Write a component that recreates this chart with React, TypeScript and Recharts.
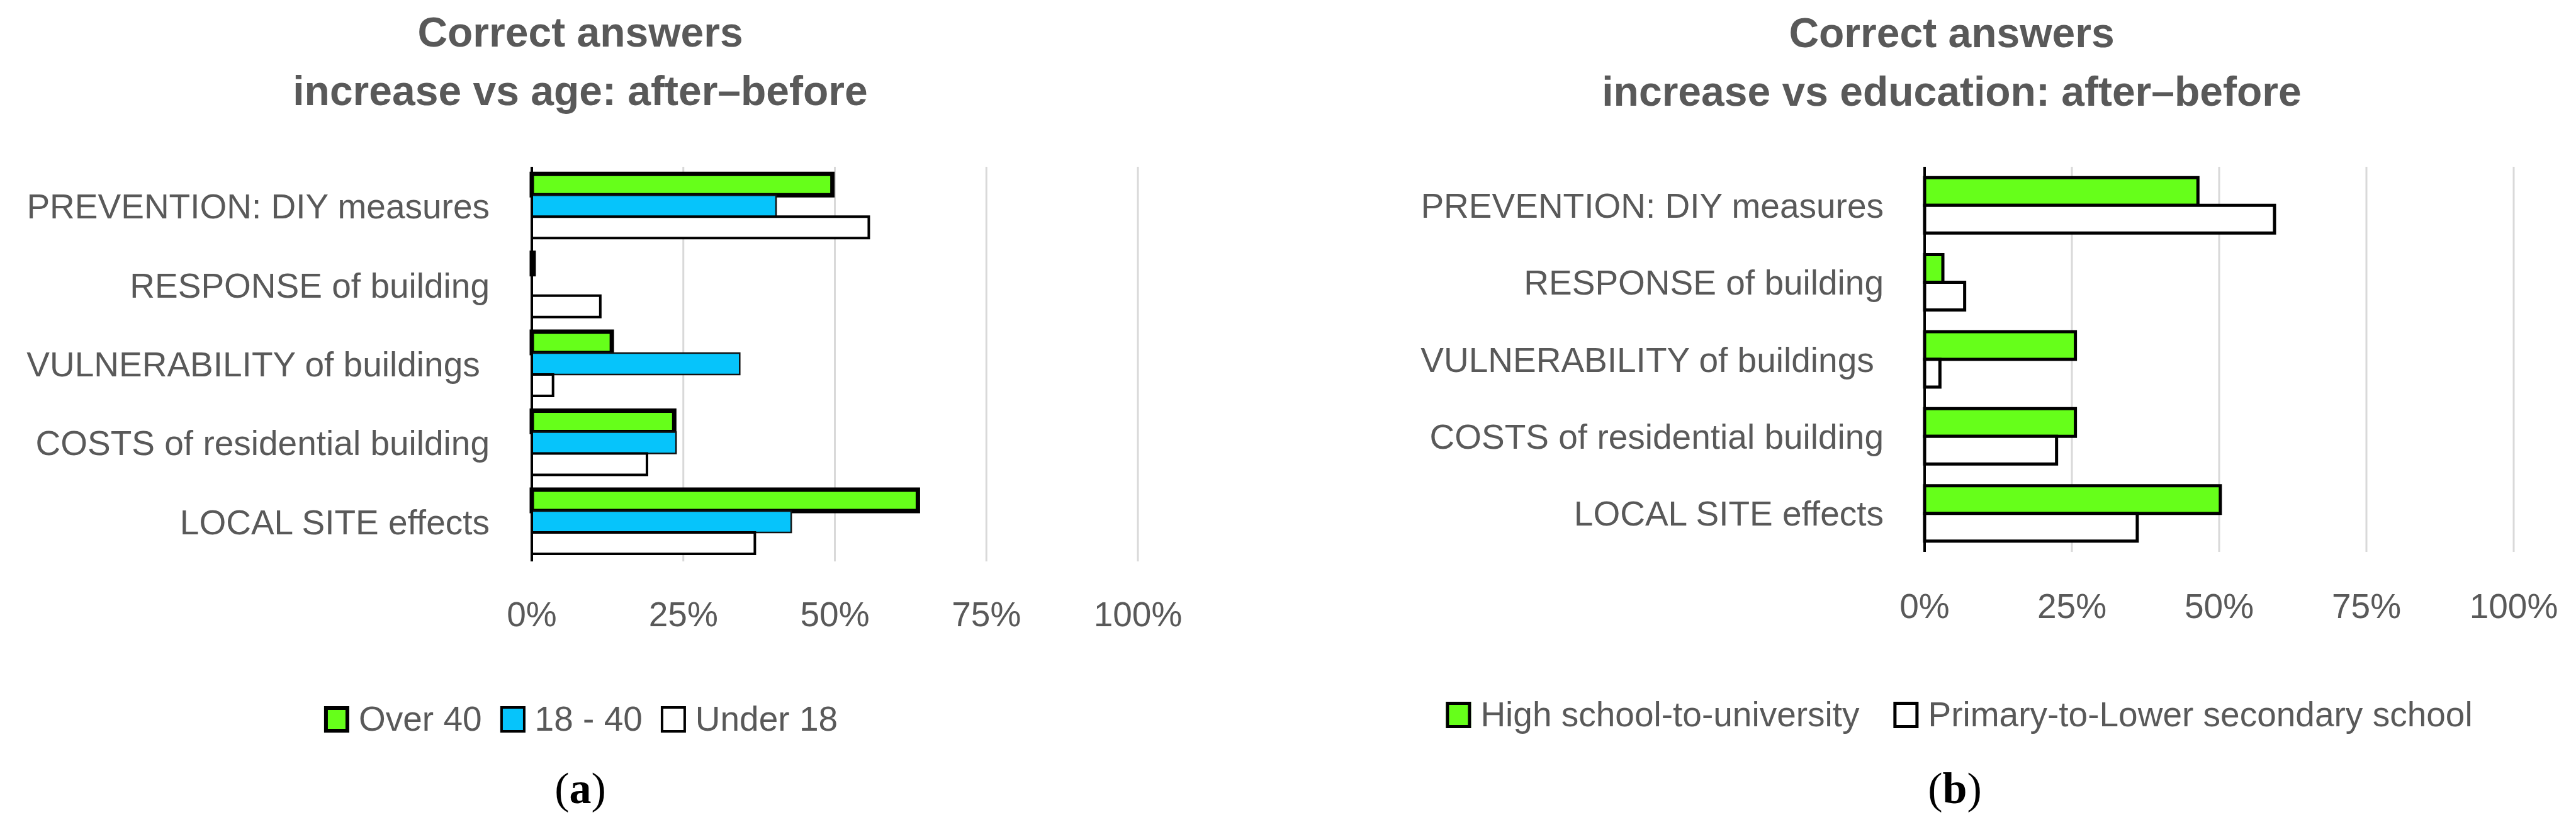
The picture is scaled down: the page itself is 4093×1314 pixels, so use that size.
import { BarChart, Bar, XAxis, YAxis, CartesianGrid } from 'recharts';

const categories = [
  'PREVENTION: DIY measures',
  'RESPONSE of building',
  'VULNERABILITY of buildings\u00A0',
  'COSTS of residential building',
  'LOCAL SITE effects',
];

// panel (a): increase by age group, percent
const over40 = [49.6, 0.3, 13.2, 23.5, 63.7];
const age18to40 = [40.3, 0, 34.3, 23.8, 42.8];
const under18 = [55.6, 11.3, 3.5, 19.0, 36.8];

// panel (b): increase by education, percent
const highSchoolUni = [46.4, 3.1, 25.6, 25.6, 50.2];
const primaryLowerSec = [59.4, 6.8, 2.6, 22.4, 36.1];

const percentTicks = [0, 25, 50, 75, 100];

const FONT = '"Liberation Sans", Arial, sans-serif';
const TEXT = '#595959';
const GREEN = '#66ff1a';
const BLUE = '#06c4fb';

interface Series {
  key: string;
  name: string;
  values: number[];
  fill: string;
  stroke: string;
  strokeWidth: number;
  keyBorder: number;
}

const ageSeries: Series[] = [
  { key: 'over40', name: 'Over 40', values: over40, fill: GREEN, stroke: '#000', strokeWidth: 7, keyBorder: 6 },
  { key: 'age18to40', name: '18 - 40', values: age18to40, fill: BLUE, stroke: '#111', strokeWidth: 2.5, keyBorder: 4 },
  { key: 'under18', name: 'Under 18', values: under18, fill: '#fff', stroke: '#000', strokeWidth: 4, keyBorder: 4 },
];

const eduSeries: Series[] = [
  { key: 'highSchool', name: 'High school-to-university', values: highSchoolUni, fill: GREEN, stroke: '#000', strokeWidth: 5, keyBorder: 5 },
  { key: 'primary', name: 'Primary-to-Lower secondary school', values: primaryLowerSec, fill: '#fff', stroke: '#000', strokeWidth: 5, keyBorder: 5 },
];

const tickStyle = { fontSize: 55, fill: TEXT, fontFamily: FONT };

interface PanelProps {
  series: Series[];
  left: number;
  width: number;
  yAxisWidth: number;
  rightMargin: number;
  plotBottom: number;
  categoryGap: string;
  labelGap: number;
  tickGap: number;
}

function Panel({ series, left, width, yAxisWidth, rightMargin, plotBottom, categoryGap, labelGap, tickGap }: PanelProps) {
  const data = categories.map((category, i) => {
    const row: Record<string, string | number> = { category };
    series.forEach(s => { row[s.key] = s.values[i]; });
    return row;
  });

  return (
    <div style={{ position: 'absolute', left, top: 0 }}>
      <BarChart
        width={width}
        height={1314}
        data={data}
        layout="vertical"
        barCategoryGap={categoryGap}
        barGap={0}
        margin={{ top: 265, right: rightMargin, bottom: 1314 - plotBottom - 100, left: 0 }}
      >
        <CartesianGrid horizontal={false} stroke="#d9d9d9" strokeWidth={3} />
        <XAxis
          type="number"
          domain={[0, 100]}
          ticks={percentTicks}
          interval={0}
          tickFormatter={(v: number) => `${v}%`}
          axisLine={false}
          tickLine={false}
          tickSize={0}
          tickMargin={tickGap}
          height={100}
          tick={tickStyle}
        />
        <YAxis
          type="category"
          dataKey="category"
          width={yAxisWidth}
          interval={0}
          axisLine={{ stroke: '#000', strokeWidth: 4 }}
          tickLine={false}
          tickSize={0}
          tickMargin={labelGap}
          tick={tickStyle}
        />
        {series.map(s => (
          <Bar
            key={s.key}
            dataKey={s.key}
            name={s.name}
            fill={s.fill}
            stroke={s.stroke}
            strokeWidth={s.strokeWidth}
            isAnimationActive={false}
          />
        ))}
      </BarChart>
    </div>
  );
}

function LegendRow({ series, center, top, gap }: { series: Series[]; center: number; top: number; gap: number }) {
  return (
    <div
      style={{
        position: 'absolute', left: center, top, transform: 'translateX(-50%)',
        display: 'flex', alignItems: 'center', gap, whiteSpace: 'nowrap',
        fontFamily: FONT, fontSize: 55, lineHeight: '55px', color: TEXT,
      }}
    >
      {series.map(s => (
        <div key={s.key} style={{ display: 'flex', alignItems: 'center', gap: 15 }}>
          <div
            style={{
              width: 40, height: 42, boxSizing: 'border-box',
              background: s.fill, border: `${s.keyBorder}px solid #000`,
            }}
          />
          <span>{s.name}</span>
        </div>
      ))}
    </div>
  );
}

export default function App() {
  return (
    <div style={{ position: 'absolute', left: 0, top: 0, width: 4093, height: 1314, background: '#fff', overflow: 'hidden' }}>
      <Panel
        series={ageSeries}
        left={0}
        width={2000}
        yAxisWidth={845}
        rightMargin={192}
        plotBottom={892}
        categoryGap="9%"
        labelGap={67}
        tickGap={64}
      />
      <Panel
        series={eduSeries}
        left={2046}
        width={2047}
        yAxisWidth={1012}
        rightMargin={99}
        plotBottom={877}
        categoryGap="14%"
        labelGap={65}
        tickGap={66}
      />

      <LegendRow series={ageSeries} center={923} top={1115} gap={29} />
      <LegendRow series={eduSeries} center={3113} top={1108} gap={54} />

      <svg width={4093} height={1314} style={{ position: 'absolute', left: 0, top: 0, pointerEvents: 'none' }}>
        <g fontFamily={FONT} fontSize={66} fontWeight="bold" fill={TEXT} textAnchor="middle">
          <text x={922} y={74}>Correct answers</text>
          <text x={922} y={167}>increase vs age: after–before</text>
          <text x={3101} y={75}>Correct answers</text>
          <text x={3101} y={168}>increase vs education: after–before</text>
        </g>
        <g fontFamily='"Liberation Serif", "Times New Roman", serif' fontSize={70} fill="#000" textAnchor="middle">
          <text x={922} y={1276}>(<tspan fontWeight="bold">a</tspan>)</text>
          <text x={3106} y={1276}>(<tspan fontWeight="bold">b</tspan>)</text>
        </g>
      </svg>
    </div>
  );
}
